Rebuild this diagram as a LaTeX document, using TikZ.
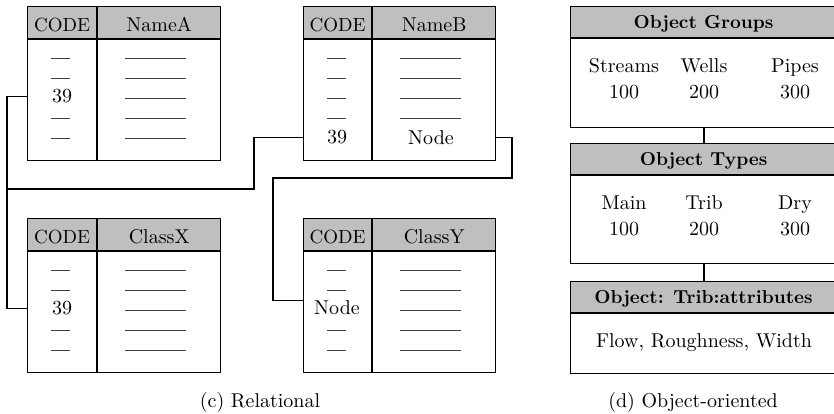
\documentclass[tikz,border=0pt]{standalone}
\usepackage{fontspec}
\setmainfont{lmroman10-regular.otf}[BoldFont=lmroman10-bold.otf]
\usetikzlibrary{calc}
\newcommand\reltab[5]{% #1 name, #2 x, #3 y, #4 code width, #5 title
  \node[hdr, minimum width=#4, minimum height=32pt] (#1hc) at (#2,#3) {};
  \node[hdr, minimum width=123pt, minimum height=32pt] (#1hn) at (#1hc.north east) {};
  \node[box, minimum width=#4, minimum height=121pt] (#1bc) at (#1hc.south west) {};
  \node[box, minimum width=123pt, minimum height=121pt] (#1bn) at (#1bc.north east) {};
  \node[txt, anchor=base, font=\fontsize{19}{22}\selectfont] (#1code) at ($(#1hc.center)+(0,8.5)$) {CODE};
  \node[txt, anchor=base] (#1title) at ($(#1hn.center)+(0,8.5)$) {#5};
}
\begin{document}
\begin{tikzpicture}[x=1pt,y=-1pt,
  box/.style={draw, line width=1.1pt, inner sep=0pt, anchor=north west},
  hdr/.style={box, fill=black!25},
  txt/.style={inner sep=0pt, font=\fontsize{20}{23}\selectfont},
  btxt/.style={inner sep=0pt, font=\fontsize{18.8}{22}\selectfont\bfseries},
  rowrule/.style={line width=0.9pt, draw=black!75},
  conn/.style={line width=1.1pt}]
\useasboundingbox (0,0) rectangle (834,413);

% ---------------- relational tables ----------------
\reltab{A}{27}{6}{69pt}{NameA}
\reltab{B}{303}{6}{68pt}{NameB}
\reltab{X}{27}{218}{69pt}{ClassX}
\reltab{Y}{303}{218}{68pt}{ClassY}

% table A rows
\foreach \yy in {58,78,118,138} \draw[rowrule] (51,\yy) -- (70,\yy);
\foreach \yy in {58,78,98,118,138} \draw[rowrule] (125,\yy) -- (186,\yy);
\node[txt] (A39) at (62,96.5) {39};

% table B rows
\foreach \yy in {58,78,98,118} \draw[rowrule] (327,\yy) -- (346,\yy);
\foreach \yy in {58,78,98,118} \draw[rowrule] (400,\yy) -- (461,\yy);
\node[txt] (B39) at (337,137.5) {39};
\node[txt] (BNode) at (431,137.5) {Node};

% table X rows
\foreach \yy in {270,290,330,350} \draw[rowrule] (51,\yy) -- (70,\yy);
\foreach \yy in {270,290,310,330,350} \draw[rowrule] (125,\yy) -- (186,\yy);
\node[txt] (X39) at (62,308.5) {39};

% table Y rows
\foreach \yy in {270,290,330,350} \draw[rowrule] (327,\yy) -- (346,\yy);
\foreach \yy in {270,290,310,330,350} \draw[rowrule] (400,\yy) -- (461,\yy);
\node[txt] (YNode) at (337,307.5) {Node};

% connectors
\coordinate (jL) at (7,189);
\coordinate (j1) at (254,189);
\coordinate (k1) at (512,178);
\coordinate (k2) at (273,178);
\draw[conn] (A39 -| Abc.west) -- (A39 -| jL) |- (X39 -| Xbc.west);
\draw[conn] (B39 -| Bbc.west) -| (j1) -- (jL);
\draw[conn] (BNode -| Bbn.east) -| (k1) -- (k2) |- (YNode.north -| Ybc.west);

\node[txt, anchor=base] (capc) at (260,407) {(c) Relational};

% ---------------- object-oriented ----------------
\node[hdr, minimum width=266pt, minimum height=31pt] (Gh) at (570,6) {};
\node[box, minimum width=266pt, minimum height=89pt] (Gb) at (Gh.south west) {};
\node[btxt, anchor=base] (Ght) at ($(Gh.center)+(0,6)$) {Object Groups};
\node[txt, anchor=base] (g1) at (624,72) {Streams};
\node[txt, anchor=base] (g2) at (704,72) {Wells};
\node[txt, anchor=base] (g3) at (795,72) {Pipes};
\node[txt, anchor=base] (g1n) at (624,98) {100};
\node[txt, anchor=base] (g2n) at (704,98) {200};
\node[txt, anchor=base] (g3n) at (795,98) {300};

\node[hdr, minimum width=266pt, minimum height=31pt] (Th) at (570,143) {};
\node[box, minimum width=266pt, minimum height=88pt] (Tb) at (Th.south west) {};
\node[btxt, anchor=base] (Tht) at ($(Th.center)+(0,6.5)$) {Object Types};
\node[txt, anchor=base] (t1) at (624,209) {Main};
\node[txt, anchor=base] (t2) at (704,209) {Trib};
\node[txt, anchor=base] (t3) at (795,209) {Dry};
\node[txt, anchor=base] (t1n) at (624,235) {100};
\node[txt, anchor=base] (t2n) at (704,235) {200};
\node[txt, anchor=base] (t3n) at (795,235) {300};

\node[hdr, minimum width=266pt, minimum height=31pt] (Rh) at (570,281) {};
\node[box, minimum width=266pt, minimum height=60pt] (Rb) at (Rh.south west) {};
\node[btxt, anchor=base] (Rht) at ($(Rh.center)+(0,6)$) {Object: Trib:attributes};
\node[txt, anchor=base] (r1) at (704,347) {Flow, Roughness, Width};

\draw[conn] (Gb.south -| g2) -- (Th.north -| g2);
\draw[conn] (Tb.south -| t2) -- (Rh.north -| t2);

\node[txt, anchor=base] (capd) at (693,407) {(d) Object-oriented};
\end{tikzpicture}
\end{document}
